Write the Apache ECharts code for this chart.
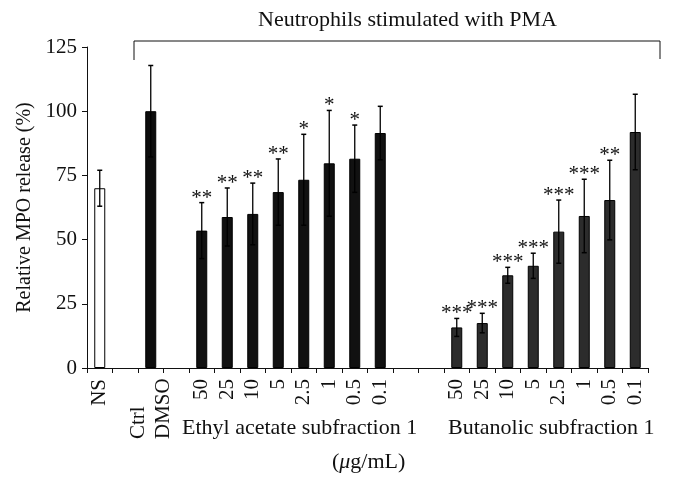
<!DOCTYPE html>
<html>
<head>
<meta charset="utf-8">
<script src="https://cdn.jsdelivr.net/npm/echarts@6/dist/echarts.min.js"></script>
<style>
html,body{margin:0;padding:0;background:#fff;}
#chart{width:674px;height:488px;}
</style>
</head>
<body>
<div id="chart"></div>
<script>
// ---- data ----
var categories = ['NS', '', 'Ctrl\nDMSO', '', '50', '25', '10', '5', '2.5', '1', '0.5', '0.1', '', '', '50', '25', '10', '5', '2.5', '1', '0.5', '0.1'];
var nsValue = 70, nsErr = 7;
var dmsoValue = 100, dmsoErr = 17.8;
var ethylValues = [53.5, 58.8, 60.0, 68.5, 73.3, 79.7, 81.5, 91.5];
var ethylErr    = [10.9, 11.3, 12.0, 12.9, 17.7, 20.6, 13.1, 10.4];
var ethylSig    = ['**', '**', '**', '**', '*', '*', '*', ''];
var butanolValues = [15.8, 17.5, 36.1, 39.8, 53.1, 59.2, 65.4, 91.9];
var butanolErr    = [3.5, 3.8, 3.1, 4.9, 12.3, 14.3, 15.5, 14.7];
var butanolSig    = ['***', '***', '***', '***', '***', '***', '**', ''];
var yTicks = [0, 25, 50, 75, 100, 125];

var SERIF = '"Liberation Serif", "DejaVu Serif", serif';
var INK = '#111';

// ---- build data ----
var barData = [];
var errData = [];
for (var i = 0; i < categories.length; i++) barData.push('-');
barData[0] = {value: nsValue, itemStyle: {color: '#fff', borderColor: '#000', borderWidth: 1}};
errData.push([0, nsValue, nsErr, '']);
barData[2] = {value: dmsoValue, itemStyle: {color: '#0d0d0d', borderColor: '#000', borderWidth: 1}};
errData.push([2, dmsoValue, dmsoErr, '']);
ethylValues.forEach(function (v, k) {
  barData[4 + k] = {value: v, itemStyle: {color: '#111', borderColor: '#000', borderWidth: 1}};
  errData.push([4 + k, v, ethylErr[k], ethylSig[k]]);
});
butanolValues.forEach(function (v, k) {
  barData[14 + k] = {value: v, itemStyle: {color: '#2c2c2c', borderColor: '#000', borderWidth: 1}};
  errData.push([14 + k, v, butanolErr[k], butanolSig[k]]);
});

var chart = echarts.init(document.getElementById('chart'), null, {renderer: 'canvas'});

var option = {
  animation: false,
  backgroundColor: '#fff',
  grid: {left: 87, right: 26, top: 47, bottom: 120},
  xAxis: {
    type: 'category',
    data: categories,
    boundaryGap: true,
    axisLine: {lineStyle: {color: INK, width: 1}},
    axisTick: {show: true, interval: 0, length: 5, inside: false, lineStyle: {color: INK}},
    axisLabel: {
      interval: 0, rotate: 90, margin: 11,
      fontFamily: SERIF, fontSize: 21, color: INK, lineHeight: 25,
      formatter: function (val) {
        if (val === 'Ctrl\nDMSO') return '{l|Ctrl}\n{l|DMSO}';
        return val;
      },
      rich: {l: {width: 60, align: 'left', fontFamily: SERIF, fontSize: 21, color: INK, lineHeight: 25}}
    }
  },
  yAxis: {
    type: 'value',
    min: 0, max: 125, interval: 25,
    name: 'Relative MPO release (%)',
    nameLocation: 'middle',
    nameGap: 47,
    nameTextStyle: {fontFamily: SERIF, fontSize: 20, color: INK},
    axisLine: {show: true, lineStyle: {color: INK, width: 1}},
    axisTick: {show: true, length: 5, lineStyle: {color: INK}},
    splitLine: {show: false},
    axisLabel: {
      margin: 10, fontFamily: SERIF, fontSize: 21, color: INK,
      formatter: function (v) { return yTicks.indexOf(v) >= 0 ? String(v) : ''; }
    }
  },
  series: [
    {
      type: 'bar',
      data: barData,
      barWidth: 11,
      z: 2
    },
    {
      type: 'custom',
      data: errData,
      z: 3,
      renderItem: function (params, api) {
        var x = api.value(0), v = api.value(1), e = api.value(2);
        var sig = errData[params.dataIndex][3];
        var top = api.coord([x, v + e]);
        var bot = api.coord([x, v - e]);
        var cw = 2.5;
        var children = [
          {type: 'line', shape: {x1: top[0], y1: top[1], x2: bot[0], y2: bot[1]}, style: {stroke: '#000', lineWidth: 1.3}},
          {type: 'line', shape: {x1: top[0] - cw, y1: top[1], x2: top[0] + cw, y2: top[1]}, style: {stroke: '#000', lineWidth: 1.5}},
          {type: 'line', shape: {x1: bot[0] - cw, y1: bot[1], x2: bot[0] + cw, y2: bot[1]}, style: {stroke: '#000', lineWidth: 1.5}}
        ];
        if (sig) {
          children.push({
            type: 'text',
            style: {
              text: sig, x: top[0], y: top[1] + 6,
              textAlign: 'center', textVerticalAlign: 'bottom',
              font: '21px ' + SERIF, fill: INK
            }
          });
        }
        return {type: 'group', children: children};
      }
    }
  ],
  graphic: [
    {type: 'text', left: 258, top: 9, style: {text: 'Neutrophils stimulated with PMA', font: '22px ' + SERIF, fill: INK}},
    {type: 'polyline', shape: {points: [[134, 60], [134, 41], [660, 41], [660, 59]]}, style: {stroke: INK, lineWidth: 1, fill: null}},
    {type: 'text', left: 182, top: 417, style: {text: 'Ethyl acetate subfraction 1', font: '22px ' + SERIF, fill: INK}},
    {type: 'text', left: 448, top: 417, style: {text: 'Butanolic subfraction 1', font: '22px ' + SERIF, fill: INK}},
    {type: 'text', left: 332, top: 451, style: {
      text: '({i|\u03bc}g/mL)', font: '22px ' + SERIF, fill: INK,
      rich: {i: {fontStyle: 'italic', fontFamily: SERIF, fontSize: 22, fill: INK}}
    }}
  ]
};
chart.setOption(option);
</script>
</body>
</html>
